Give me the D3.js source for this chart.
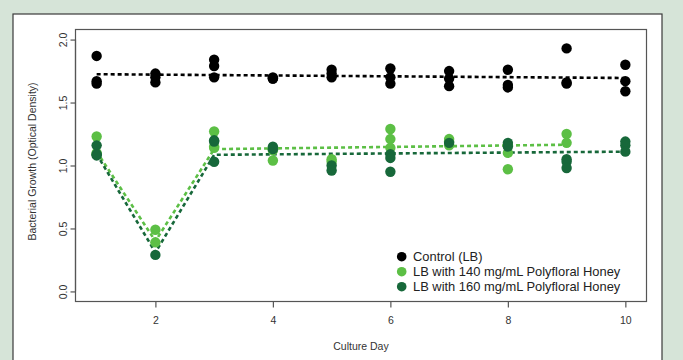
<!DOCTYPE html>
<html><head><meta charset="utf-8">
<script src="https://cdnjs.cloudflare.com/ajax/libs/d3/7.8.5/d3.min.js"></script>
<style>body{margin:0;background:#d6e4d8;}svg{display:block;}</style>
</head><body>
<svg id="c" width="683" height="360"></svg>
<script>
// ---- data ----
const days = [1,2,3,4,5,6,7,8,9,10];
const xTicks = [2,4,6,8,10];
const yTicks = [0.0,0.5,1.0,1.5,2.0];
const seriesNames = ["Control (LB)","LB with 140 mg/mL Polyfloral Honey","LB with 160 mg/mL Polyfloral Honey"];
const seriesColors = ["#000000","#5cbf45","#17683a"];
// replicate readings per day
const control = [[1.87,1.67,1.65],[1.73,1.70,1.66],[1.84,1.79,1.70],[1.70,1.69,1.69],[1.76,1.73,1.70],[1.77,1.70,1.65],[1.75,1.69,1.63],[1.76,1.64,1.62],[1.93,1.66,1.65],[1.80,1.67,1.59]];
const honey140 = [[1.23,1.10,1.09],[0.49,0.39],[1.27,1.15,1.14],[1.12,1.04],[1.05,1.03],[1.29,1.21,1.14],[1.21,1.19,1.16],[1.16,1.10,0.97],[1.25,1.18],[]];
const honey160 = [[1.16,1.08,1.09],[0.29],[1.20,1.19,1.03],[1.15,1.13],[1.00,0.96],[1.09,1.06,0.95],[1.18],[1.18,1.15],[1.05,1.03,0.98],[1.19,1.16,1.11]];
// fitted dashed lines: [day, value]
const controlLine = [[1,1.725],[10,1.695]];
const honey140Line = [[1,1.11],[2,0.40],[3,1.13],[9,1.165]];
const honey160Line = [[1,1.09],[2,0.31],[3,1.085],[10,1.11]];

const svg = d3.select("#c");
// white panel
svg.append("rect").attr("x",13).attr("y",14).attr("width",649).attr("height",360)
  .attr("fill","#fff").attr("stroke","#3a3a3a").attr("stroke-width",1.2);

const L=75.5, R=646.5, T=29.5, B=301.5;
const x = d3.scaleLinear().domain([1-0.36,10+0.36]).range([L,R]);
const y = d3.scaleLinear().domain([-0.08,2.08]).range([B,T]);
const font = "Liberation Sans, Arial, Helvetica, sans-serif";

// box
svg.append("rect").attr("x",L).attr("y",T).attr("width",R-L).attr("height",B-T)
  .attr("fill","none").attr("stroke","#555").attr("stroke-width",1.2);

// axes
const xa = svg.append("g").attr("transform",`translate(0,${B})`)
  .call(d3.axisBottom(x).tickValues(xTicks).tickSize(6).tickPadding(9).tickFormat(d3.format("d")));
const ya = svg.append("g").attr("transform",`translate(${L},0)`)
  .call(d3.axisLeft(y).tickValues(yTicks).tickSize(5).tickPadding(5).tickFormat(d3.format(".1f")));
[xa,ya].forEach(g=>{
  g.select(".domain").attr("stroke","#555").attr("stroke-width",1.2);
  g.selectAll(".tick line").attr("stroke","#555").attr("stroke-width",1.2);
  g.selectAll("text").attr("fill","#333").style("font-family",font).style("font-size","10.5px");
});
xa.select(".domain").attr("d",`M${x(2)},0H${x(10)}`);
ya.select(".domain").attr("d",`M0,${y(0)}V${y(2)}`);
ya.selectAll(".tick text").attr("x",null).attr("dy",null)
  .attr("text-anchor","middle")
  .attr("transform","translate(-12,0) rotate(-90)")
  .attr("dy","0.35em");

svg.append("text").attr("x",(L+R)/2).attr("y",350).attr("text-anchor","middle")
  .style("font-family",font).style("font-size","10.5px").attr("fill","#333").text("Culture Day");
svg.append("text").attr("transform",`translate(32,${(T+B)/2 - 4}) rotate(-90)`).attr("text-anchor","middle")
  .attr("dy","0.35em")
  .style("font-family",font).style("font-size","10.5px").attr("fill","#333").text("Bacterial Growth (Optical Density)");

// lines
const line = d3.line().x(d=>x(d[0])).y(d=>y(d[1]));
[[controlLine,0],[honey140Line,1],[honey160Line,2]].forEach(([ln,i])=>{
  svg.append("path").attr("d",line(ln)).attr("fill","none")
    .attr("stroke",seriesColors[i]).attr("stroke-width",2.6).attr("stroke-dasharray","4,3");
});

// points
const r = 5.2;
[[control,0],[honey140,1],[honey160,2]].forEach(([ser,i])=>{
  const pts=[];
  ser.forEach((vals,k)=>vals.forEach(v=>pts.push([days[k],v])));
  svg.append("g").selectAll("circle").data(pts).join("circle")
    .attr("cx",d=>x(d[0])).attr("cy",d=>y(d[1])).attr("r",r).attr("fill",seriesColors[i]);
});

// legend
const lg = svg.append("g");
seriesNames.forEach((n,i)=>{
  const yy = 256.7 + i*15;
  lg.append("circle").attr("cx",401.7).attr("cy",yy).attr("r",4.8).attr("fill",seriesColors[i]);
  lg.append("text").attr("x",413).attr("y",yy).attr("dy","0.36em")
    .style("font-family",font).style("font-size","12.9px").attr("fill","#222").text(n);
});
</script>
</body></html>
